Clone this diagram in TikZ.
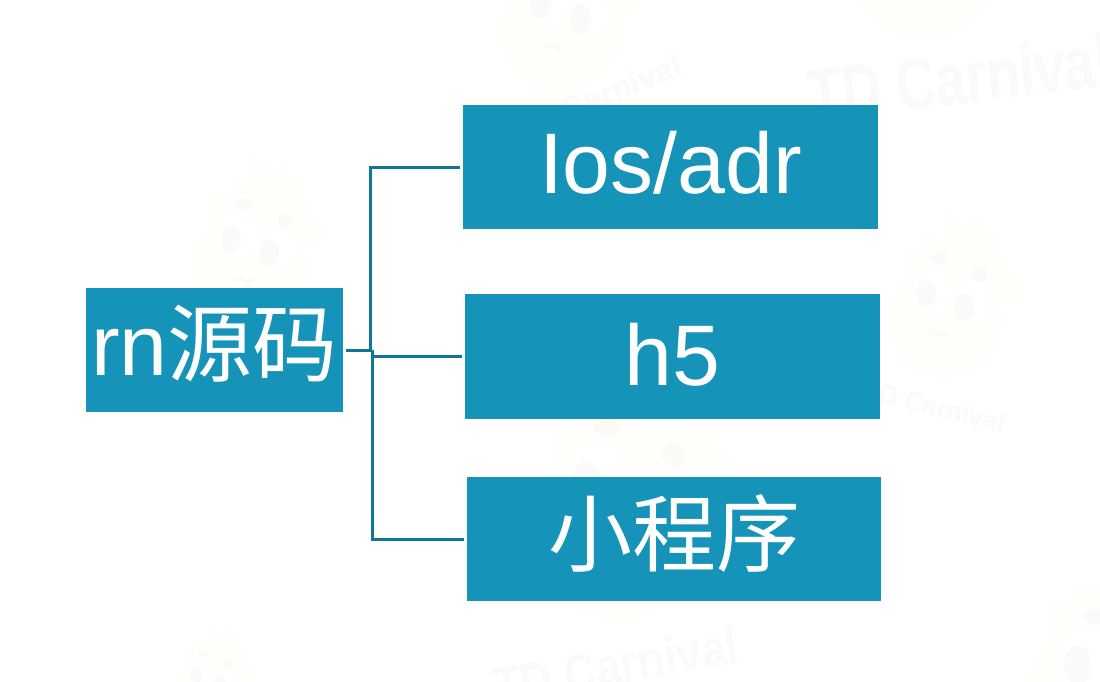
\documentclass[tikz,border=0pt]{standalone}
\usepackage{fontspec}
\setmainfont{Liberation Sans}
\newfontfamily\cjk{Noto Sans CJK SC}
\definecolor{boxblue}{HTML}{1593B8}
\definecolor{linkblue}{HTML}{0F769A}
\definecolor{markpale}{HTML}{FEFEFA}
\definecolor{markgrey}{HTML}{FBFAF8}
\tikzset{
  x=1pt,y=-1pt,
  tbox/.style={fill=boxblue,text=white,inner sep=0pt,font=\fontsize{86}{86}\selectfont,anchor=center,text depth=0pt},
  link/.style={draw=linkblue,line width=3pt},
  marktext/.style={text=markgrey,inner sep=0pt,anchor=base west,transform shape},
  mascot/.pic={
    \fill[markpale] (-5,25) ellipse [x radius=57,y radius=58];
    \fill[markpale] (-42,-15) -- (-43,-50) -- (-33,-48) -- (-22,-30) -- (-25,-62) -- (-8,-55) -- (-2,-90) -- (12,-68) -- (35,-80) -- (32,-62) -- (52,-65) -- (42,-45) -- (62,-35) -- (48,-18) -- (50,25) -- (-40,30) -- cycle;
    \fill[markpale] (55,-8) ellipse [x radius=17,y radius=15];
    \fill[white] (-18,-5) ellipse [x radius=19,y radius=23];
    \fill[white] (21,7) ellipse [x radius=19,y radius=22];
    \fill[markgrey] (-24,-2) ellipse [x radius=10,y radius=14];
    \fill[markgrey] (14,12) ellipse [x radius=10,y radius=14];
    \fill[markgrey] (-11,-37) ellipse [x radius=9,y radius=5];
    \fill[markgrey] (30,-20) ellipse [x radius=7,y radius=7];
    \fill[markgrey] (-16,38) ellipse [x radius=6,y radius=2];
    \fill[markgrey] (-6,40) ellipse [x radius=6,y radius=2];
  },
}
\begin{document}
\begin{tikzpicture}
\useasboundingbox (0,0) rectangle (1100,681);
\fill[white] (0,0) rectangle (1100,681);
% faint watermark
\pic at (950,295) {mascot};
\pic at (255,241) {mascot};
\pic at (566,6) [scale=1.05] {mascot};
\pic at (930,-74) [scale=1.35] {mascot};
\pic at (625,487) [scale=1.6] {mascot};
\pic at (211,676) [scale=0.6] {mascot};
\pic at (1111,668) [scale=1.4] {mascot};
\begin{scope}
\clip (0,0) rectangle (1100,681);
\node[marktext,rotate=7,xscale=0.88,yscale=1.18,font=\bfseries\fontsize{62}{62}\selectfont] (w1) at (812,122) {TD Carnival};
\node[marktext,rotate=22,font=\bfseries\fontsize{32}{32}\selectfont] (w2) at (567,122) {Carnival};
\node[marktext,rotate=-14,font=\bfseries\fontsize{26}{26}\selectfont] (w3) at (862,398) {TD Carnival};
\node[marktext,rotate=10,yscale=1.15,font=\bfseries\fontsize{44.5}{44.5}\selectfont] (w4) at (497,705) {TD Carnival};
\end{scope}
% boxes
\node[tbox,minimum width=257pt,minimum height=124pt,text height=50pt] (rn) at (214.5,350) {rn{\cjk\fontsize{85}{85}\selectfont 源码}};
\node[tbox,minimum width=415pt,minimum height=124pt,text height=52pt] (ios) at (670.5,167) {Ios/adr};
\node[tbox,minimum width=415pt,minimum height=125pt,text height=57pt] (h5) at (672.5,356.5) {h5};
\node[tbox,minimum width=414pt,minimum height=124pt,text height=52pt] (mini) at (674,539) {\cjk\fontsize{84}{84}\selectfont 小程序};
% connectors
\coordinate (jt) at (370.5,351);
\coordinate (jb) at (372,350);
\draw[link,shorten <=3pt,shorten >=3pt] (rn.east) -- (jt |- rn.east) -- (jt |- ios.west) -- (ios.west);
\draw[link,shorten >=3pt] (jb) -- (jb |- h5.west) -- (h5.west);
\draw[link,shorten >=3pt] (jb) -- (jb |- mini.west) -- (mini.west);
\end{tikzpicture}
\end{document}
